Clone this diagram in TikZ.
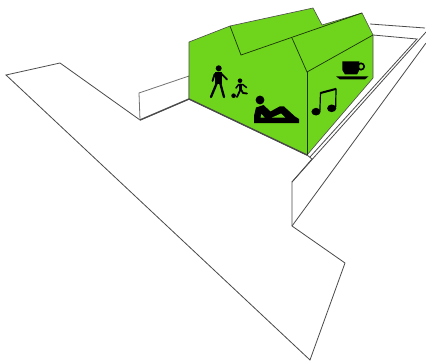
\documentclass[tikz,border=0pt]{standalone}
\usetikzlibrary{calc}
\definecolor{housegreen}{HTML}{6FD41C}
\definecolor{outline}{HTML}{4A4A4A}
\tikzset{
  ground/.style={draw=outline,line width=0.8pt,line join=miter,fill=white},
  thickedge/.style={draw=outline,line width=1.4pt},
  house/.style={fill=housegreen,draw=black!70,line width=0.6pt,line join=round},
  ridge/.style={draw=black!75!housegreen,line width=0.7pt},
  limb/.style={draw=black,line width=2.3pt,line cap=round,line join=round},
  solid/.style={fill=black,draw=none}
}
\begin{document}
\begin{tikzpicture}[x=1pt,y=-1pt]
\useasboundingbox (0,0) rectangle (426,361);
\fill[white] (0,0) rectangle (426,361);
% ground
\draw[ground] (6,75)--(60,63)--(140,120)--(189,99)--(307,155)--(312,159)--(292,182)--(292,226)--(345,263)--(310,360)--cycle;
\draw[ground] (292,226)--(426,43);
\draw[ground,fill=none] (292,182)--(426,32);
\draw[ground,fill=none] (310,157)--(417,39)--(373,35);
\draw[ground,fill=none] (370,24)--(425,28);
% back wall
\draw[ground,draw=black!55] (140,120)--(139,93)--(189,76)--(189,99);
\draw[thickedge] (140,120)--(189,99);
% house
\draw[house] (189,42)--(230,26)--(313,8)--(322,25)--(362,13)--(373,35)--(373,78)--(307,155)--(189,99)--cycle;
\draw[thickedge] (189,99)--(307,155);
\draw[ridge] (230,26)--(241,55)--(362,13);
\draw[ridge] (292,38)--(307,72)--(373,35);
\draw[ridge] (307,72)--(307,155);
% adult
\fill[solid] (218.7,68.3) circle (3);
\draw[limb,line width=1.8pt] (212.5,81)--(214.5,74.5)--(217,72.8)--(220.5,72.8)--(227,79.5);
\fill[solid] (215,72)--(222,72)--(222,84)--(215,84)--cycle;
\draw[limb] (216.8,83)--(211,97);
\draw[limb] (220.2,83)--(224,97);
% child
\fill[solid] (240,80.7) circle (2.3);
\draw[limb,line width=1.5pt] (236,88)--(238.5,84.7)--(243,84.7)--(246.5,87.5);
\draw[limb,line width=2.6pt] (240.7,85)--(240.7,89.5);
\draw[limb,line width=1.8pt] (240.5,89.5)--(237,97);
\draw[limb,line width=1.8pt] (241,89.5)--(243,93)--(247,93.5);
\fill[solid] (233.6,95.7) circle (2.3);
% reclining person
\fill[solid] (260,100) circle (4.4);
\fill[solid] (256,107.5)--(263.5,105)--(270.5,111.5)--(279.5,106.5)--(284,106.5)--(295,116.5)--(299,119)--(299,123)--(254,123)--(254,116)--cycle;
\fill[housegreen] (261.5,114)--(264.5,117.5)--(260.5,117.5)--cycle;
\fill[housegreen] (272,117.5)--(281,113.5)--(285,117.5)--cycle;
% cup
\fill[solid] (342.3,61.5)--(359.3,61.5)--(359.3,70)--(357,74.5)--(345,74.5)--(342.3,70)--cycle;
\draw[draw=black,line width=1.6pt] (361,66.5) circle (3.2);
\fill[solid] (336,76.3)--(368.5,76.3)--(365,79.4)--(340,79.4)--cycle;
% notes
\fill[solid] (316,111.7) ellipse (4.6 and 3.8);
\fill[solid] (331.7,108.3) ellipse (4.6 and 3.8);
\draw[draw=black,line width=1.2pt] (319.9,110.5)--(320.5,92.5);
\draw[draw=black,line width=1.2pt] (335.7,107)--(336,88.5);
\draw[draw=black,line width=2pt] (320.5,93)--(336,88.9);
\end{tikzpicture}
\end{document}
